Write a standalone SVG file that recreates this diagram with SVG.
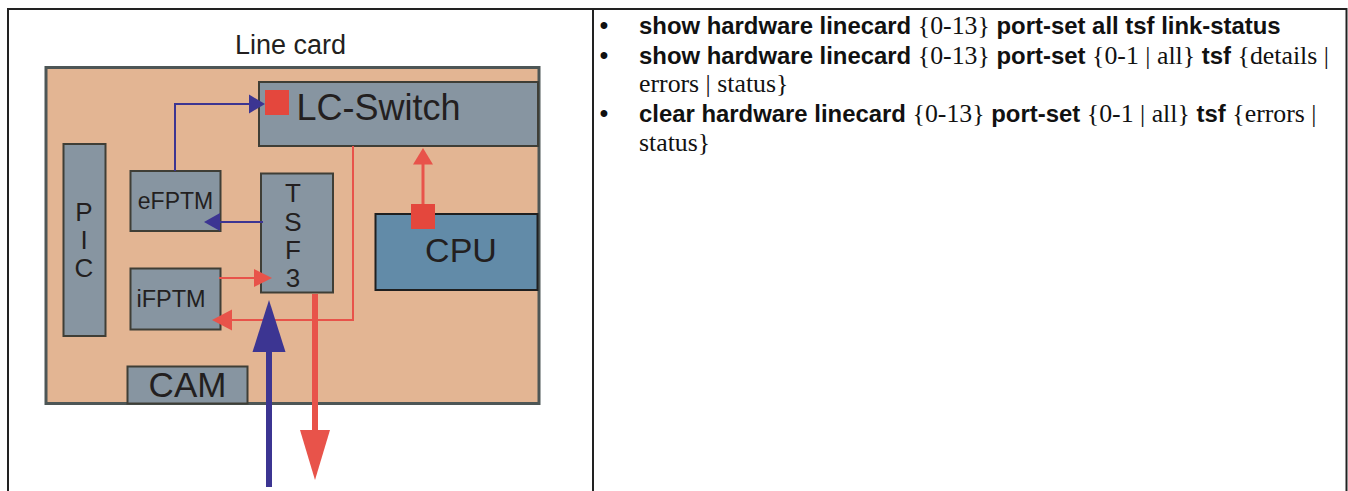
<svg xmlns="http://www.w3.org/2000/svg" width="1348" height="491" viewBox="0 0 1348 491">
<style>
.box{fill:#8795A1;stroke:#3f3e36;stroke-width:2}
.lbl{font-family:"Liberation Sans",Arial,sans-serif;fill:#231f20}
.b{font-family:"Liberation Sans",Arial,sans-serif;font-weight:bold;font-size:23.9px;fill:#111}
.s{font-family:"Liberation Serif","Times New Roman",serif;font-weight:normal;font-size:25.8px;fill:#111}
.blue{stroke:#3C3592;fill:none}
.red{stroke:#E8534A;fill:none}
.bluef{fill:#3C3592}
.redf{fill:#E8534A}
.sq{fill:#E4473D}
</style>
<rect x="0" y="0" width="1348" height="491" fill="#ffffff"/>
<g id="table">
<rect x="8" y="9" width="1338.5" height="500" fill="none" stroke="#222" stroke-width="2"/>
<line x1="593" y1="9" x2="593" y2="491" stroke="#222" stroke-width="2"/>
</g>
<text class="lbl" x="290.5" y="54" font-size="27" text-anchor="middle">Line card</text>
<g id="board">
<rect x="46" y="67.5" width="493" height="336" fill="#E3B593" stroke="#4d5656" stroke-width="3"/>
</g>
<g id="lc-switch">
<rect class="box" x="259" y="82" width="279" height="64"/>
<rect class="sq" x="265" y="90" width="24" height="25"/>
<text class="lbl" x="296.5" y="120" font-size="36">LC-Switch</text>
</g>
<g id="pic">
<rect class="box" x="63.5" y="144" width="42" height="192"/>
<text class="lbl" font-size="26" text-anchor="middle"><tspan x="84" y="221">P</tspan><tspan x="84" y="249">I</tspan><tspan x="84" y="277">C</tspan></text>
</g>
<g id="efptm">
<rect class="box" x="130.5" y="171" width="90" height="60"/>
<text class="lbl" x="175.5" y="209" font-size="23" text-anchor="middle">eFPTM</text>
</g>
<g id="tsf3">
<rect class="box" x="261" y="173.5" width="72" height="119"/>
<text class="lbl" font-size="26" text-anchor="middle"><tspan x="293" y="202">T</tspan><tspan x="293" y="231">S</tspan><tspan x="293" y="259">F</tspan><tspan x="293" y="287">3</tspan></text>
</g>
<g id="ifptm">
<rect class="box" x="130.5" y="268.5" width="90" height="61"/>
<text class="lbl" x="171" y="306.5" font-size="23.5" text-anchor="middle">iFPTM</text>
</g>
<g id="cpu">
<rect x="375.5" y="214" width="162" height="76" fill="#628BA8" stroke="#1f1f1f" stroke-width="2"/>
<text class="lbl" x="461" y="262" font-size="34" text-anchor="middle">CPU</text>
</g>
<g id="cam">
<rect class="box" x="127.5" y="366.5" width="120" height="37"/>
<text class="lbl" x="187.5" y="397" font-size="35" text-anchor="middle">CAM</text>
</g>
<g id="connectors">
<polyline class="blue" stroke-width="2" points="175,171 175,104 250,104"/>
<polygon class="bluef" points="249,94.5 265,104 249,113.5"/>
<line class="blue" stroke-width="2" x1="263" y1="222" x2="218" y2="222"/>
<polygon class="bluef" points="204,222 220,213 220,231"/>
<line class="red" stroke-width="2" x1="219" y1="278" x2="256" y2="278"/>
<polygon class="redf" points="272,278 254,269 254,287"/>
<polyline class="red" stroke-width="2" points="353,146 353,320 230,320"/>
<polygon class="redf" points="212,320 232,309.5 232,330.5"/>
<line class="red" stroke-width="3" x1="423" y1="205" x2="423" y2="162"/>
<polygon class="redf" points="423,148 413,164.5 433,164.5"/>
<rect class="sq" x="411" y="204" width="24" height="25"/>
<line class="red" stroke-width="6" x1="315" y1="294" x2="315" y2="432"/>
<polygon class="redf" points="315,480 300,430 330,430"/>
<line class="blue" stroke-width="6" x1="269" y1="487" x2="269" y2="350"/>
<polygon class="bluef" points="269,300 252.5,352 285.5,352"/>
</g>
<g id="commands">
<text class="b" x="604" y="34" text-anchor="middle">•</text>
<text class="b" x="639" y="34">show hardware linecard <tspan class="s">{0-13}</tspan> port-set all tsf link-status</text>
<text class="b" x="604" y="64" text-anchor="middle">•</text>
<text class="b" x="639" y="64">show hardware linecard <tspan class="s">{0-13}</tspan> port-set <tspan class="s">{0-1 | all}</tspan> tsf <tspan class="s">{details |</tspan></text>
<text class="s" x="639" y="92">errors | status}</text>
<text class="b" x="604" y="122" text-anchor="middle">•</text>
<text class="b" x="639" y="122">clear hardware linecard <tspan class="s">{0-13}</tspan> port-set <tspan class="s">{0-1 | all}</tspan> tsf <tspan class="s">{errors |</tspan></text>
<text class="s" x="639" y="151">status}</text>
</g>
</svg>
